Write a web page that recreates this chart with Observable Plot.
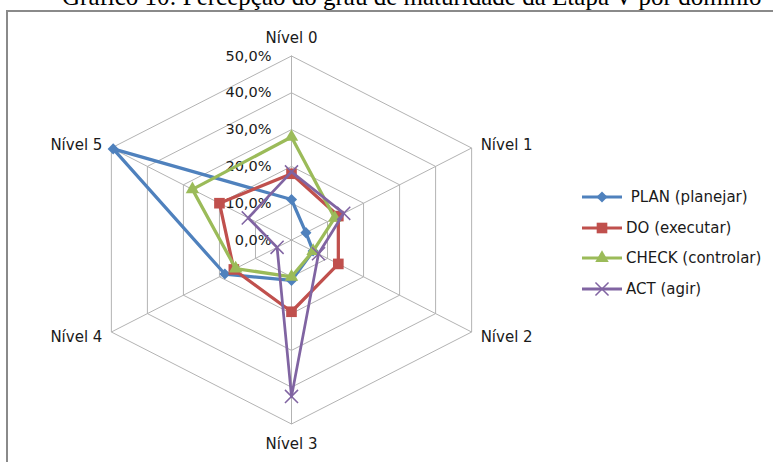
<!DOCTYPE html>
<html><head><meta charset="utf-8">
<script src="https://cdn.jsdelivr.net/npm/d3@7"></script>
<script src="https://cdn.jsdelivr.net/npm/@observablehq/plot@0.6"></script>
<style>
html,body{margin:0;padding:0;background:#fff;width:773px;height:462px;overflow:hidden;position:relative;}
#title{position:absolute;left:62px;top:-15px;font:25px/24px "Liberation Serif","Times New Roman",serif;color:#000;white-space:nowrap;}
#frame{position:absolute;left:6px;top:10px;width:900px;height:600px;border-left:2px solid #8a8a8a;border-top:2px solid #8a8a8a;}
#chart{position:absolute;left:0;top:0;}
#legend{position:absolute;left:582px;top:182px;font:15px "DejaVu Sans",sans-serif;color:#1a1a1a;}
.li{display:flex;align-items:center;height:30.5px;white-space:pre;}
.li svg{margin-right:2px;}
</style></head>
<body>
<div id="title">Gráfico 10: Percepção do grau de maturidade da Etapa V por domínio</div>
<div id="frame"></div>
<div id="chart"></div>
<div id="legend"></div>
<script>
const levels = ["Nível 0","Nível 1","Nível 2","Nível 3","Nível 4","Nível 5"];
const seriesNames = ["PLAN (planejar)","DO (executar)","CHECK (controlar)","ACT (agir)"];
const plan  = [0.11, 0.04, 0.06, 0.11, 0.185, 0.495];
const doV   = [0.18, 0.13, 0.13, 0.195, 0.16, 0.20];
const check = [0.28, 0.12, 0.06, 0.10, 0.155, 0.275];
const act   = [0.185, 0.145, 0.075, 0.425, 0.04, 0.12];
const ticks = [0, 0.1, 0.2, 0.3, 0.4, 0.5];
const tickLabels = ["0,0%","10,0%","20,0%","30,0%","40,0%","50,0%"];

const seriesValues = [plan, doV, check, act];
const colors = ["#4F81BD","#C0504D","#9BBB59","#8064A2"];
const symbols = ["diamond2","square","triangle","times"];
const rMax = 0.5;
const n = levels.length;
const ang = i => i * 2 * Math.PI / n;
const px = (v,i) => v * Math.sin(ang(i));
const py = (v,i) => v * Math.cos(ang(i));

// grid
const grid = [];
ticks.slice(1).forEach(t => { for (let i = 0; i <= n; i++) grid.push({t, x: px(t, i % n), y: py(t, i % n)}); });
const spokes = levels.map((l,i) => ({x1:0,y1:0,x2:px(rMax,i),y2:py(rMax,i)}));

const marks = [
  Plot.line(grid, {x:"x", y:"y", z:"t", stroke:"#b3b3b3", strokeWidth:1}),
  Plot.link(spokes, {x1:"x1", y1:"y1", x2:"x2", y2:"y2", stroke:"#b3b3b3", strokeWidth:1}),
  Plot.text(ticks.map((t,k)=>({t, label: tickLabels[k]})), {x:()=>0, y:"t", text:"label", textAnchor:"end", dx:-20, fontSize:14.5, fontFamily:"DejaVu Sans", fill:"#1a1a1a"})
];

// axis labels
const labOff = [
  {dx:0, dy:-18, anchor:"middle"},
  {dx:9, dy:-3, anchor:"start"},
  {dx:9, dy:5, anchor:"start"},
  {dx:0, dy:20, anchor:"middle"},
  {dx:-9, dy:5, anchor:"end"},
  {dx:-9, dy:-3, anchor:"end"}
];
levels.forEach((l,i) => {
  marks.push(Plot.text([{l, x:px(rMax,i), y:py(rMax,i)}], {x:"x", y:"y", text:"l", dx:labOff[i].dx, dy:labOff[i].dy, textAnchor:labOff[i].anchor, fontSize:15, fontFamily:"DejaVu Sans", fill:"#1a1a1a"}));
});

seriesValues.forEach((vals, s) => {
  const pts = vals.map((v,i)=>({s: seriesNames[s], x:px(v,i), y:py(v,i)}));
  marks.push(Plot.line([...pts, pts[0]], {x:"x", y:"y", stroke:colors[s], strokeWidth: s===3 ? 2.75 : 3.25, strokeLinejoin:"round"}));
  if (symbols[s] === "times") {
    marks.push(Plot.dot(pts, {x:"x", y:"y", symbol:()=>"times", r:6, stroke:colors[s], strokeWidth:1.5}));
  } else {
    marks.push(Plot.dot(pts, {x:"x", y:"y", symbol:()=>symbols[s], r: s===1 ? 6 : 5, fill:colors[s], stroke:"none"}));
  }
});

const chart = Plot.plot({
  width: 773, height: 462,
  margin: 0,
  x: {domain:[-rMax, rMax], range:[291-208, 291+208], axis:null},
  y: {domain:[-rMax, rMax], range:[239.5+184, 239.5-184], axis:null},
  symbol: {type:"identity"},
  style: {background:"transparent", overflow:"visible"},
  marks
});
document.getElementById("chart").append(chart);

// legend
const leg = document.getElementById("legend");
seriesNames.forEach((name, s) => {
  const div = document.createElement("div");
  div.className = "li";
  const svg = d3.create("svg").attr("width", 42).attr("height", 16);
  svg.append("line").attr("x1",0).attr("x2",40).attr("y1",8).attr("y2",8).attr("stroke",colors[s]).attr("stroke-width",3);
  const symMap = {diamond2:d3.symbolDiamond2, square:d3.symbolSquare, triangle:d3.symbolTriangle, times:d3.symbolTimes};
  const r = s===1 ? 6 : (s===3 ? 6 : 5);
  const p = svg.append("path").attr("transform","translate(20,8)").attr("d", d3.symbol(symMap[symbols[s]], Math.PI*r*r)());
  if (symbols[s]==="times") p.attr("fill","none").attr("stroke",colors[s]).attr("stroke-width",1.5);
  else p.attr("fill",colors[s]);
  div.append(svg.node());
  const sp = document.createElement("span");
  sp.textContent = (s===0 ? " " : "") + name;
  div.append(sp);
  leg.append(div);
});
</script>
</body></html>
